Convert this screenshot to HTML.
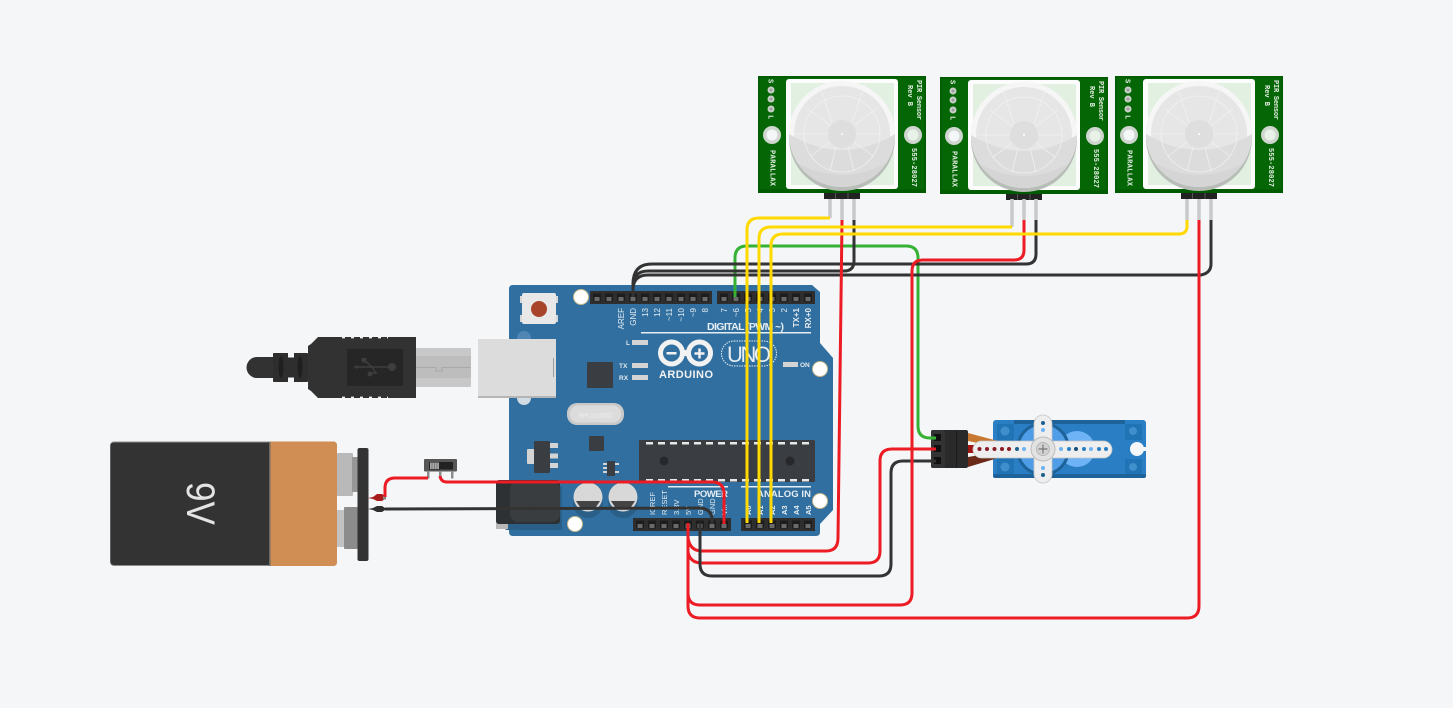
<!DOCTYPE html>
<html><head><meta charset="utf-8"><style>
html,body{margin:0;padding:0;background:#f4f6f8;width:1453px;height:708px;overflow:hidden}
svg{display:block}
text{font-family:"Liberation Sans",sans-serif}
.w{fill:none;stroke-width:3;stroke-linejoin:round;stroke-linecap:butt}
.pl{fill:#e4ebf1;font-size:8px;text-anchor:end}
.pw{fill:#e6efe6;font-size:7px;font-family:"Liberation Mono",monospace;font-weight:bold}
</style></head><body>
<svg width="1453" height="708" viewBox="0 0 1453 708" xmlns="http://www.w3.org/2000/svg">
<defs>
<pattern id="p1" patternUnits="userSpaceOnUse" x="591" y="291" width="12" height="13"><rect width="12" height="13" fill="#2e2e2e"/><rect x="2" y="2.5" width="8" height="8" fill="#1d1d1d"/><rect x="3.5" y="6" width="5" height="4" fill="#6a6a6a"/></pattern>
<pattern id="p2" patternUnits="userSpaceOnUse" x="718" y="291" width="12" height="13"><rect width="12" height="13" fill="#2e2e2e"/><rect x="2" y="2.5" width="8" height="8" fill="#1d1d1d"/><rect x="3.5" y="6" width="5" height="4" fill="#6a6a6a"/></pattern>
<pattern id="p3" patternUnits="userSpaceOnUse" x="634" y="518" width="12" height="13"><rect width="12" height="13" fill="#2e2e2e"/><rect x="2" y="2.5" width="8" height="8" fill="#1d1d1d"/><rect x="3.5" y="6" width="5" height="4" fill="#6a6a6a"/></pattern>
<pattern id="p4" patternUnits="userSpaceOnUse" x="742" y="518" width="12" height="13"><rect width="12" height="13" fill="#2e2e2e"/><rect x="2" y="2.5" width="8" height="8" fill="#1d1d1d"/><rect x="3.5" y="6" width="5" height="4" fill="#6a6a6a"/></pattern>
<clipPath id="lc"><circle cx="84" cy="58" r="53"/></clipPath>
<g id="pirbase">
<rect width="168" height="117" fill="#005a00"/>
<rect x="1.5" y="1.5" width="165" height="112" fill="#056605"/>
<rect x="28" y="3" width="112" height="110" rx="3" fill="#fbfcfb"/>
<rect x="33" y="7" width="103" height="102" fill="#e2f0e2"/>
<circle cx="84" cy="62" r="53" fill="#b8bdb8"/>
<circle cx="84" cy="58" r="53" fill="#f6f6f6"/>
<circle cx="84" cy="58" r="48" fill="#e6e6e6"/>
<g clip-path="url(#lc)">
<path d="M31 58 Q84 90 137 58 V115 H31Z" fill="#dcdcdc"/>
<path d="M31 82 Q84 116 137 82 V115 H31Z" fill="#d2d2d2" opacity=".7"/>
</g>
<circle cx="84" cy="58" r="38" fill="none" stroke="#f2f2f2" stroke-width=".8"/>
<g stroke="#f2f2f2" stroke-width=".7">
<path d="M36 58H70M98 58H122M74 47L66 22M94 47L102 22M73 50L50 33M95 50L118 33M72 66L53 80M96 66L115 80M78 71L72 95M90 71L96 95"/>
<path d="M60 8L66 22M108 8L102 22"/>
</g>
<circle cx="84" cy="58" r="14" fill="#dedede"/>
<circle cx="84" cy="58" r="1" fill="#fff"/>
<circle cx="14" cy="59" r="9" fill="#cfd6cf"/><circle cx="14" cy="59" r="5.5" fill="#f4f6f8"/>
<circle cx="155" cy="59" r="9" fill="#cfd6cf"/><circle cx="155" cy="59" r="5.5" fill="#e8f2e8"/>
<circle cx="13" cy="14" r="3.5" fill="#c8cfc8"/><circle cx="13" cy="14" r="1.5" fill="#9aa39a"/>
<circle cx="13" cy="23" r="3.5" fill="#c8cfc8"/><circle cx="13" cy="23" r="1.5" fill="#9aa39a"/>
<circle cx="13" cy="33" r="3.5" fill="#c8cfc8"/><circle cx="13" cy="33" r="1.5" fill="#9aa39a"/>
<rect x="66" y="117" width="36" height="6" fill="#222"/>
<path d="M77.5 117v6M90 117v6" stroke="#555"/>
</g>
</defs>

<rect width="1453" height="708" fill="#f4f6f8"/>

<!-- PIR sensors -->
<g transform="translate(758,76)"><use href="#pirbase"/>
<text class="pw" transform="translate(10.5,3) rotate(90)">S</text>
<text class="pw" transform="translate(10.5,39) rotate(90)">L</text>
<text class="pw" transform="translate(12.5,74) rotate(90)" textLength="36">PARALLAX</text>
<text class="pw" transform="translate(154,72) rotate(90)" textLength="39">555-28027</text>
<text class="pw" transform="translate(159,4) rotate(90)" textLength="40">PIR Sensor</text>
<text class="pw" transform="translate(150,9) rotate(90)" textLength="21">Rev B</text>
</g>
<g transform="translate(940,77)"><use href="#pirbase"/>
<text class="pw" transform="translate(10.5,3) rotate(90)">S</text>
<text class="pw" transform="translate(10.5,39) rotate(90)">L</text>
<text class="pw" transform="translate(12.5,74) rotate(90)" textLength="36">PARALLAX</text>
<text class="pw" transform="translate(154,72) rotate(90)" textLength="39">555-28027</text>
<text class="pw" transform="translate(159,4) rotate(90)" textLength="40">PIR Sensor</text>
<text class="pw" transform="translate(150,9) rotate(90)" textLength="21">Rev B</text>
</g>
<g transform="translate(1115,76)"><use href="#pirbase"/>
<text class="pw" transform="translate(10.5,3) rotate(90)">S</text>
<text class="pw" transform="translate(10.5,39) rotate(90)">L</text>
<text class="pw" transform="translate(12.5,74) rotate(90)" textLength="36">PARALLAX</text>
<text class="pw" transform="translate(154,72) rotate(90)" textLength="39">555-28027</text>
<text class="pw" transform="translate(159,4) rotate(90)" textLength="40">PIR Sensor</text>
<text class="pw" transform="translate(150,9) rotate(90)" textLength="21">Rev B</text>
</g>

<!-- Arduino board -->
<path d="M513 285H812L820 292V343L833 358V510L820 524V532Q820 536 816 536H513Q509 536 509 532V289Q509 285 513 285Z" fill="#306f9f"/>
<rect x="590" y="291" width="122" height="13" fill="url(#p1)"/>
<rect x="717" y="291" width="98" height="13" fill="url(#p2)"/>
<rect x="633" y="518" width="98" height="13" fill="url(#p3)"/>
<rect x="741" y="518" width="74" height="13" fill="url(#p4)"/>
<g fill="#fff" stroke="#c9b98a" stroke-width="1">
<circle cx="581" cy="297" r="7.5"/><circle cx="820" cy="369" r="7.5"/><circle cx="820" cy="501" r="7.5"/><circle cx="575" cy="524" r="7.5"/>
</g>
<!-- reset -->
<g fill="#d8d8d8"><rect x="520" y="296" width="4" height="7"/><rect x="554" y="296" width="4" height="7"/><rect x="520" y="315" width="4" height="7"/><rect x="554" y="315" width="4" height="7"/></g>
<rect x="522" y="293" width="34" height="31" rx="2" fill="#e8e8e8"/>
<circle cx="539" cy="309" r="8" fill="#a8442a"/>
<!-- top labels -->
<g class="pl">
<text class="pl" transform="translate(624,308) rotate(-90)">AREF</text>
<text class="pl" transform="translate(636,308) rotate(-90)">GND</text>
<text class="pl" transform="translate(648,308) rotate(-90)">13</text>
<text class="pl" transform="translate(660,308) rotate(-90)">12</text>
<text class="pl" transform="translate(672,308) rotate(-90)">~11</text>
<text class="pl" transform="translate(684,308) rotate(-90)">~10</text>
<text class="pl" transform="translate(696,308) rotate(-90)">~9</text>
<text class="pl" transform="translate(708,308) rotate(-90)">8</text>
<text class="pl" transform="translate(727,308) rotate(-90)">7</text>
<text class="pl" transform="translate(739,308) rotate(-90)">~6</text>
<text class="pl" transform="translate(751,308) rotate(-90)">5</text>
<text class="pl" transform="translate(763,308) rotate(-90)">4</text>
<text class="pl" transform="translate(775,308) rotate(-90)">3</text>
<text class="pl" transform="translate(787,308) rotate(-90)">2</text>
<text class="pl" transform="translate(799,308) rotate(-90)" font-weight="bold">TX+1</text>
<text class="pl" transform="translate(811,308) rotate(-90)" font-weight="bold">RX+0</text>
</g>
<text x="707" y="330" fill="#e6edf3" font-size="10.5" font-weight="bold" textLength="77">DIGITAL (PWM ~)</text>
<rect x="641" y="332" width="170" height="1.5" fill="#e6edf3"/>
<!-- LEDs -->
<g fill="#d4d4d4">
<rect x="632" y="340" width="16" height="5"/><rect x="632" y="363" width="16" height="5"/><rect x="632" y="375" width="16" height="5"/><rect x="783" y="362" width="15" height="5"/>
</g>
<g fill="#e4ebf1" font-size="6.5" font-weight="bold">
<text x="626" y="345">L</text><text x="619" y="368">TX</text><text x="619" y="380">RX</text><text x="800" y="367">ON</text>
</g>
<rect x="587" y="362" width="26" height="26" rx="1" fill="#3a3e42"/>
<!-- logo -->
<circle cx="671.500" cy="353" r="11" fill="none" stroke="#f2f2f2" stroke-width="5"/>
<circle cx="699.500" cy="353" r="11" fill="none" stroke="#f2f2f2" stroke-width="5"/>
<rect x="682" y="350" width="7" height="6" fill="#f2f2f2"/>
<rect x="666.500" y="352" width="10" height="2.5" fill="#f2f2f2"/>
<path d="M694.500 353.500H704.500M699.500 348.500V358.500" stroke="#f2f2f2" stroke-width="2.500"/>
<text x="659" y="378" fill="#f2f2f2" font-size="11" font-weight="bold" textLength="54">ARDUINO</text>
<rect x="721.500" y="341" width="55" height="25" rx="12.500" fill="none" stroke="#e8eef3" stroke-width="1" stroke-dasharray="1.500 1"/>
<text x="727" y="362" fill="#e8eef3" font-size="22" textLength="44">UNO</text>
<!-- crystal -->
<rect x="567" y="403" width="57" height="22" rx="10" fill="#c9c9c9"/>
<rect x="570" y="405.500" width="51" height="17" rx="8" fill="#dcdcdc"/>
<text x="578" y="418" font-size="7" fill="#ececec" textLength="35">SPK16.000G</text>
<!-- regulators and small chips -->
<rect x="527" y="449" width="8" height="15" rx="1" fill="#d4d4d4"/>
<rect x="534" y="441" width="16" height="32" rx="1" fill="#3a3e42"/>
<g fill="#d4d4d4"><rect x="550" y="443" width="8" height="5"/><rect x="550" y="453.500" width="8" height="5"/><rect x="550" y="463" width="8" height="5"/></g>
<rect x="589" y="436" width="15" height="15" rx="1" fill="#3a3e42"/>
<rect x="607" y="461" width="8" height="15" fill="#3a3e42"/>
<g fill="#d4d4d4"><rect x="603" y="463" width="4" height="2"/><rect x="603" y="467" width="4" height="2"/><rect x="603" y="471" width="4" height="2"/><rect x="615" y="463" width="4" height="2"/><rect x="615" y="471" width="4" height="2"/></g>
<!-- main chip -->
<rect x="639" y="440" width="176" height="42" rx="1" fill="#3a3d41"/>
<g fill="#e8e8e8">
<rect x="646" y="442" width="7" height="2.500"/><rect x="658" y="442" width="7" height="2.500"/><rect x="670" y="442" width="7" height="2.500"/><rect x="682" y="442" width="7" height="2.500"/><rect x="694" y="442" width="7" height="2.500"/><rect x="706" y="442" width="7" height="2.500"/><rect x="718" y="442" width="7" height="2.500"/><rect x="730" y="442" width="7" height="2.500"/><rect x="742" y="442" width="7" height="2.500"/><rect x="754" y="442" width="7" height="2.500"/><rect x="766" y="442" width="7" height="2.500"/><rect x="778" y="442" width="7" height="2.500"/><rect x="790" y="442" width="7" height="2.500"/><rect x="802" y="442" width="7" height="2.500"/>
<rect x="646" y="479" width="7" height="2.500"/><rect x="658" y="479" width="7" height="2.500"/><rect x="670" y="479" width="7" height="2.500"/><rect x="682" y="479" width="7" height="2.500"/><rect x="694" y="479" width="7" height="2.500"/><rect x="706" y="479" width="7" height="2.500"/><rect x="718" y="479" width="7" height="2.500"/><rect x="730" y="479" width="7" height="2.500"/><rect x="742" y="479" width="7" height="2.500"/><rect x="754" y="479" width="7" height="2.500"/><rect x="766" y="479" width="7" height="2.500"/><rect x="778" y="479" width="7" height="2.500"/><rect x="790" y="479" width="7" height="2.500"/><rect x="802" y="479" width="7" height="2.500"/>
</g>
<circle cx="664" cy="461" r="4.500" fill="#26282b"/><circle cx="790" cy="461" r="4.500" fill="#26282b"/>
<!-- caps -->
<circle cx="588" cy="503" r="15" fill="#2a5f88"/><circle cx="623" cy="503" r="15" fill="#2a5f88"/>
<circle cx="588" cy="497" r="14.500" fill="#d8d8d8"/><circle cx="623" cy="497" r="14.500" fill="#d8d8d8"/>
<path d="M576 501H600L596 507H580Z" fill="#444"/>
<path d="M611 501H635L631 507H615Z" fill="#444"/>
<!-- power jack -->
<rect x="505" y="486" width="57" height="44" rx="2" fill="#2a5f88"/>
<rect x="496" y="521" width="12" height="8" fill="#b8b8b8"/>
<rect x="496" y="480" width="64" height="44" rx="3" fill="#2e3134"/>
<rect x="510" y="481" width="50" height="41" rx="8" fill="#3a3d40"/>
<!-- bottom labels -->
<rect x="668" y="486" width="60" height="1.500" fill="#e6edf3"/>
<rect x="741" y="486" width="70" height="1.500" fill="#e6edf3"/>
<text x="694" y="497" fill="#e6edf3" font-size="9.500" font-weight="bold" textLength="34">POWER</text>
<text x="757" y="497" fill="#e6edf3" font-size="9.500" font-weight="bold" textLength="54">ANALOG IN</text>
<g fill="#e4ebf1" font-size="7.500">
<text transform="translate(655,515) rotate(-90)">IOREF</text>
<text transform="translate(667,515) rotate(-90)">RESET</text>
<text transform="translate(679,515) rotate(-90)">3.3V</text>
<text transform="translate(691,515) rotate(-90)">5V</text>
<text transform="translate(703,515) rotate(-90)">GND</text>
<text transform="translate(715,515) rotate(-90)">GND</text>
<text transform="translate(727,515) rotate(-90)">Vin</text>
<text transform="translate(751,515) rotate(-90)" font-weight="bold">A0</text>
<text transform="translate(763,515) rotate(-90)" font-weight="bold">A1</text>
<text transform="translate(775,515) rotate(-90)" font-weight="bold">A2</text>
<text transform="translate(787,515) rotate(-90)" font-weight="bold">A3</text>
<text transform="translate(799,515) rotate(-90)" font-weight="bold">A4</text>
<text transform="translate(811,515) rotate(-90)" font-weight="bold">A5</text>
</g>

<!-- USB -->
<ellipse cx="524" cy="338" rx="7" ry="7" fill="#4f86b3"/>
<ellipse cx="524" cy="398" rx="7" ry="7" fill="#d0dbe4"/>
<rect x="478" y="339" width="78" height="58" fill="#dcdcdc"/>
<rect x="478" y="396" width="78" height="2" fill="#b5b5b5"/>
<rect x="553" y="358" width="1" height="19" fill="#9c9c9c"/>
<rect x="415" y="348" width="56" height="39" rx="1" fill="#c8c8c8"/>
<rect x="415" y="356" width="56" height="22" fill="#bdbdbd"/>
<path d="M415 367.500H436V371H442V367.500H471" fill="none" stroke="#a9a9a9" stroke-width="1"/>
<path d="M257 357H273V378H257A10.500 10.500 0 0 1 257 357Z" fill="#323232"/>
<rect x="273" y="353" width="35" height="29" rx="1" fill="#2e2e2e"/>
<rect x="288" y="353" width="6" height="4.500" fill="#f4f6f8"/><rect x="288" y="377.500" width="6" height="4.500" fill="#f4f6f8"/>
<ellipse cx="281" cy="367" rx="2.500" ry="11" fill="#1f1f1f"/><ellipse cx="300" cy="367" rx="2.500" ry="11" fill="#1f1f1f"/>
<path d="M308 346L311 344L318 337H416V398H318L311 391L308 389Z" fill="#323232"/>
<path d="M342 337.700H388M342 397.300H388" stroke="#f0f0f0" stroke-width="1.400" stroke-dasharray="3 6"/>
<rect x="347" y="349" width="56" height="37" fill="#262626"/>
<path d="M356 367H391M372 367L364 360H361M372 367L376 373H370" fill="none" stroke="#3e3e3e" stroke-width="1.500"/>
<circle cx="392" cy="367" r="4" fill="#3e3e3e"/><circle cx="370" cy="374" r="2.500" fill="#3e3e3e"/><rect x="362" y="358" width="4.500" height="4.500" fill="#3e3e3e"/>
<path d="M353 367L358 365V369Z" fill="#3e3e3e"/>

<!-- Battery -->
<rect x="110" y="441.500" width="227" height="124.500" rx="4" fill="#8c8c8c"/>
<path d="M114 442.500H270V565H114Q110.500 565 110.500 561V446Q110.500 442.500 114 442.500Z" fill="#333"/>
<path d="M270 441.500H333Q337 441.500 337 445.500V562Q337 566 333 566H270Z" fill="#d08d54"/>
<rect x="269" y="442" width="1.500" height="124" fill="#6e6a64"/>
<text transform="translate(187,482) rotate(90)" fill="#e4e4e4" font-size="40" textLength="43" lengthAdjust="spacingAndGlyphs">9V</text>
<rect x="337" y="453" width="16" height="43" rx="1" fill="#b9b9b9"/>
<rect x="352" y="457" width="6" height="35" fill="#979797"/>
<rect x="337" y="510" width="8" height="37" fill="#c2c2c2"/>
<rect x="344" y="507" width="15" height="42" rx="1" fill="#8c8c8c"/>
<rect x="357.500" y="448" width="11" height="113" rx="2" fill="#333"/>
<!-- clip -->
<path d="M368 498L373 497L377 494H382L385 496V499L382 501H377L373 499Z" fill="#a81c1c"/>
<path d="M368 509L373 508L377 506H382L385 508V510L382 512H377L373 510Z" fill="#2e2e2e"/>
<rect x="383" y="496" width="3" height="3.500" fill="#888"/>

<!-- Switch -->
<rect x="424" y="459" width="33" height="12.500" rx="1" fill="#565656"/>
<rect x="429" y="462" width="24" height="7.500" fill="#222"/>
<rect x="430" y="462.500" width="9" height="6.500" fill="#a9a9a9"/>
<path d="M432 462.500v6.500M434.500 462.500v6.500M437 462.500v6.500" stroke="#666" stroke-width=".7"/>
<g fill="#8c8c8c"><rect x="427" y="471" width="2.500" height="7.500"/><rect x="439" y="471" width="2.500" height="7.500"/><rect x="451" y="471" width="2.500" height="7.500"/></g>

<!-- Servo -->
<rect x="993" y="420" width="153" height="58" rx="3" fill="#2a7fc4"/>
<rect x="1014" y="420" width="111" height="4" fill="#1d6299"/>
<rect x="993" y="474" width="153" height="4" rx="2" fill="#1d6299"/>
<rect x="997" y="424" width="17" height="18" fill="#2073b5"/><circle cx="1005" cy="431" r="4.500" fill="#3f8fcc"/>
<rect x="997" y="456" width="17" height="18" fill="#2073b5"/><circle cx="1005" cy="467" r="4.500" fill="#3f8fcc"/>
<rect x="1125" y="424" width="17" height="16" fill="#2073b5"/><circle cx="1133" cy="431" r="4" fill="#3f8fcc"/>
<rect x="1125" y="459" width="17" height="15" fill="#2073b5"/><circle cx="1133" cy="467" r="4" fill="#3f8fcc"/>
<circle cx="1077" cy="449" r="18" fill="#6db3f5"/>
<circle cx="1043" cy="449" r="27" fill="#1d6299"/>
<circle cx="1043" cy="449" r="24" fill="#4f9de6"/>
<circle cx="1137" cy="449" r="7" fill="#f4f6f8"/><rect x="1140" y="447" width="7" height="4" fill="#f4f6f8"/>
<!-- connector -->
<path d="M968 433L998 441V447L968 441Z" fill="#c87830"/>
<rect x="968" y="445" width="24" height="8" fill="#a01414"/>
<path d="M968 457L998 452V458L968 467Z" fill="#6b2a18"/>
<rect x="931" y="430" width="37" height="38" rx="2" fill="#2a2a2a"/>
<rect x="931" y="430" width="14" height="38" rx="2" fill="#333"/>
<rect x="956" y="431" width="1" height="36" fill="#1a1a1a"/>
<g fill="#111"><rect x="934" y="434" width="7" height="7"/><rect x="934" y="445" width="7" height="7"/><rect x="934" y="457" width="7" height="7"/></g>
<!-- horn -->
<rect x="973" y="441" width="139" height="17" rx="8.500" fill="#eeeeee" stroke="#c4c4c4" stroke-width=".8"/>
<rect x="1034" y="415" width="18" height="68" rx="9" fill="#eeeeee" stroke="#c4c4c4" stroke-width=".8"/>
<rect x="1035" y="440" width="16" height="19" fill="#eeeeee"/>
<circle cx="1043" cy="449" r="12" fill="#e2e2e2" stroke="#bdbdbd" stroke-width="1"/>
<circle cx="1043" cy="449" r="6.500" fill="#d2d2d2" stroke="#aaa" stroke-width=".7"/>
<path d="M1038.500 449H1047.500M1043 444.500V453.500" stroke="#777" stroke-width="1.200"/>
<g fill="#8a1c24"><circle cx="979.500" cy="449" r="2"/><circle cx="987" cy="449" r="2"/><circle cx="994.500" cy="449" r="2"/><circle cx="1002" cy="449" r="2"/><circle cx="1009" cy="449" r="2"/></g>
<circle cx="1017" cy="449" r="2" fill="#1d5f8f"/><circle cx="1024" cy="449" r="2" fill="#6db3f5"/>
<circle cx="1061" cy="449" r="2" fill="#6db3f5"/><circle cx="1069" cy="449" r="2" fill="#2a7fc4"/><circle cx="1076" cy="449" r="2" fill="#154f7d"/><circle cx="1084" cy="449" r="2" fill="#2a7fc4"/><circle cx="1091" cy="449" r="2" fill="#6db3f5"/><circle cx="1099" cy="449" r="2" fill="#2a7fc4"/><circle cx="1106" cy="449" r="2" fill="#2a7fc4"/>
<circle cx="1043" cy="423" r="2" fill="#1d5f8f"/><circle cx="1043" cy="430" r="2" fill="#6db3f5"/><circle cx="1043" cy="468" r="2" fill="#6db3f5"/><circle cx="1043" cy="475" r="2" fill="#1d5f8f"/>

<!-- leads -->
<g stroke="#c9c9c9" stroke-width="3.500" fill="none">
<path d="M830 199V218M842 199V220M854 199V220M1012 199V227M1024 199V220M1036 199V220M1187 199V220M1199 199V220M1211 199V220"/>
</g>

<!-- wires -->
<path class="w" stroke="#35b234" d="M735 297V258Q735 246 747 246H906Q918 246 918 258V426Q918 438 930 438H936"/>
<path class="w" stroke="#333" d="M633 297V284Q633 264 652 264H1026Q1036 264 1036 254V220"/>
<path class="w" stroke="#333" d="M633 297V287Q633 271 648 271H844Q854 271 854 261V220"/>
<path class="w" stroke="#333" d="M633 297V290Q633 275 648 275H1201Q1211 273 1211 264V220"/>
<path class="w" stroke="#ed1c24" d="M842 220L838 538Q838 551 826 551H702Q690 551 688 538V523"/>
<path class="w" stroke="#ed1c24" d="M688 523V552Q690 563 702 563H868Q880 563 880 551V461Q880 449 892 449H936"/>
<path class="w" stroke="#333" d="M700 523V564Q700 576 712 576H879Q891 576 891 564V473Q891 461 903 461H936"/>
<path class="w" stroke="#ed1c24" d="M1024 220V250Q1024 260 1014 260H923Q912 260 912 271V593Q912 605 900 605H700Q688 605 688 593V523"/>
<path class="w" stroke="#ed1c24" d="M1199 220V606Q1199 618 1187 618H700Q688 618 688 606V523"/>
<path class="w" stroke="#ffd900" d="M830 218H759Q747 218 747 230V523"/>
<path class="w" stroke="#ffd900" d="M1012 227H771Q759 227 759 239V523"/>
<path class="w" stroke="#ffd900" d="M1187 220V226Q1187 234 1179 234H783Q771 234 771 246V523"/>
<path class="w" stroke="#ed1c24" d="M385 497V488Q385 478 395 478H428"/>
<path class="w" stroke="#ed1c24" d="M440 476Q441 482 447 482H712Q724 482 724 494V524"/>
<path class="w" stroke="#333" stroke-width="2.500" d="M385 509L698 508Q712 508 712 520V524"/>
</svg>
</body></html>
